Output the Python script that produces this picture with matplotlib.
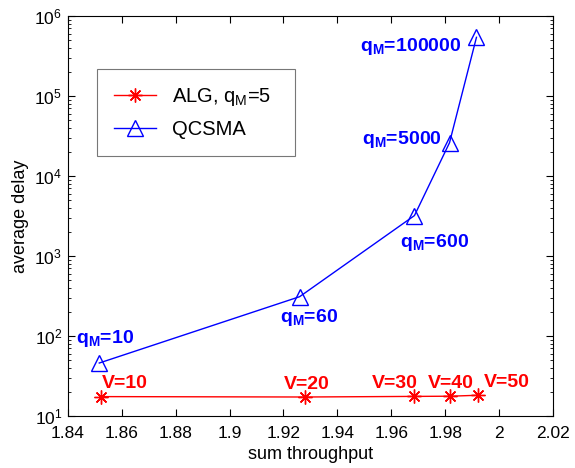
import matplotlib
matplotlib.use("Agg")
import matplotlib.pyplot as plt
from matplotlib.ticker import LogLocator, NullFormatter

plt.rcParams["font.family"] = ["Liberation Sans", "DejaVu Sans"]
plt.rcParams["mathtext.fontset"] = "custom"
plt.rcParams["mathtext.rm"] = "Liberation Sans"
plt.rcParams["mathtext.bf"] = "Liberation Sans:bold"

# ALG, q_M = 5
alg_x = [1.8522, 1.9279, 1.9683, 1.9819, 1.9923]
alg_y = [17.5, 17.3, 17.6, 17.7, 18.2]
alg_labels = ["V=10", "V=20", "V=30", "V=40", "V=50"]

# QCSMA
qc_x = [1.8517, 1.926, 1.9686, 1.9816, 1.9916]
qc_y = [46, 310, 3200, 26000, 540000]
qc_labels = [r"$\mathbf{q_M}$=10", r"$\mathbf{q_M}$=60", r"$\mathbf{q_M}$=600",
             r"$\mathbf{q_M}$=5000", r"$\mathbf{q_M}$=100000"]

fig = plt.figure(figsize=(5.75, 4.68), dpi=100)
ax = fig.add_axes([0.1178, 0.111, 0.844, 0.855])

ax.plot(alg_x, alg_y, color="red", lw=1, marker=(8, 2, 0), ms=10, mew=1,
        label=r"ALG, q$_\mathrm{M}$=5  ")
ax.plot(qc_x, qc_y, color="blue", lw=1, marker="^", ms=11, mfc="none", mew=1,
        label="QCSMA")

# label offsets in pixels (dx, dy) and alignment
alg_off = [(1, 13, "left"), (2, 13, "center"), (-19, 13, "center"),
           (0, 13, "center"), (28, 13, "center")]
qc_off = [(6, 25, "center"), (9, -21, "center"), (20, -27, "center"),
          (-8, 3, "right"), (-15, -9, "right")]

for x, y, t, (dx, dy, ha) in zip(alg_x, alg_y, alg_labels, alg_off):
    ax.annotate(t, (x, y), xytext=(dx, dy), textcoords="offset pixels",
                ha=ha, va="center", color="red", fontsize=14, fontweight="bold")
for x, y, t, (dx, dy, ha) in zip(qc_x, qc_y, qc_labels, qc_off):
    ax.annotate(t, (x, y), xytext=(dx, dy), textcoords="offset pixels",
                ha=ha, va="center", color="blue", fontsize=14, fontweight="bold")

ax.set_yscale("log")
ax.set_xlim(1.84, 2.02)
ax.set_ylim(10, 1e6)
ax.set_xticks([1.84, 1.86, 1.88, 1.9, 1.92, 1.94, 1.96, 1.98, 2.0, 2.02])
ax.set_xticklabels(["1.84", "1.86", "1.88", "1.9", "1.92", "1.94", "1.96",
                    "1.98", "2", "2.02"])
ax.yaxis.set_major_locator(LogLocator(base=10, numticks=10))
ax.yaxis.set_minor_locator(LogLocator(base=10, subs=range(2, 10), numticks=10))
ax.yaxis.set_minor_formatter(NullFormatter())
ax.tick_params(which="both", direction="in", top=True, right=True,
               labelsize=12.5)
ax.tick_params(axis="x", pad=7)
ax.tick_params(axis="y", pad=4)
ax.tick_params(which="major", length=5)
ax.tick_params(which="minor", length=2.5)
for s in ax.spines.values():
    s.set_linewidth(0.8)

ax.set_xlabel("sum throughput", fontsize=13, labelpad=4)
ax.set_ylabel("average delay", fontsize=13, labelpad=4)

leg = ax.legend(loc="upper left", bbox_to_anchor=(0.06, 0.8675), fontsize=14.5,
                fancybox=False, edgecolor="#555555", handlelength=2.1,
                borderpad=0.85, labelspacing=0.6, borderaxespad=0)
leg.get_frame().set_linewidth(0.8)

fig.savefig("out.png", dpi=100)
